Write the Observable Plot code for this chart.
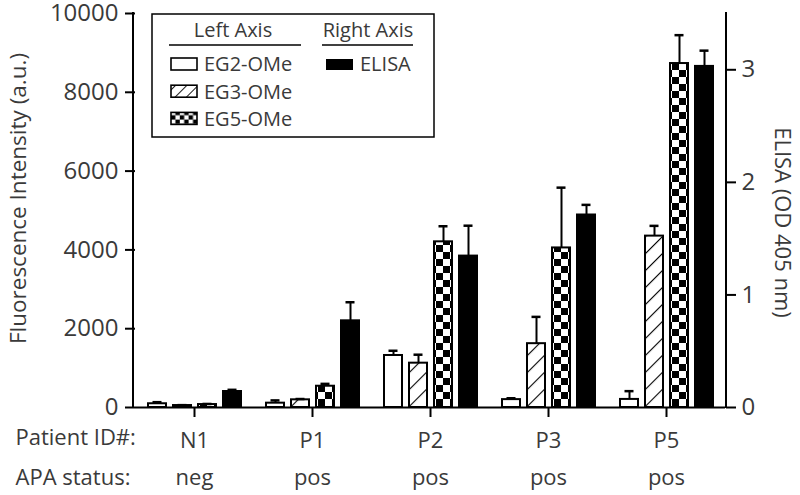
<!DOCTYPE html>
<html><head><meta charset="utf-8">
<script src="https://cdn.jsdelivr.net/npm/d3@7"></script>
<script src="https://cdn.jsdelivr.net/npm/@observablehq/plot@0.6"></script>
<style>body{margin:0;background:#fff} #chart{position:relative;width:800px;height:495px}</style>
</head><body><div id="chart"></div>
<script>
// ---- data ----
const patients = ["N1","P1","P2","P3","P5"];
const apaStatus = ["neg","pos","pos","pos","pos"];
const series = ["EG2-OMe","EG3-OMe","EG5-OMe","ELISA"];
const eg2 = [95,110,1320,200,205];
const eg2Err = [135,180,1440,235,415];
const eg3 = [50,195,1125,1620,4350];
const eg3Err = [60,215,1340,2300,4610];
const eg5 = [75,540,4205,4050,8730];
const eg5Err = [90,600,4600,5580,9450];
const elisa = [0.142,0.77,1.345,1.71,3.03];
const elisaErr = [0.157,0.935,1.615,1.80,3.17];
const leftTicks = [0,2000,4000,6000,8000,10000];
const rightTicks = [0,1,2,3];
const legendLeft = ["EG2-OMe","EG3-OMe","EG5-OMe"];
const legendRight = ["ELISA"];
const yMax = 10000, rightMax = 3.5, k = yMax/rightMax;

const rows = [];
patients.forEach((p,i)=>{
  const vals = [[eg2[i],eg2Err[i]],[eg3[i],eg3Err[i]],[eg5[i],eg5Err[i]],[elisa[i]*k, elisaErr[i]*k]];
  series.forEach((s,j)=> rows.push({patient:p, series:s, value: vals[j][0], err: vals[j][1]}));
});
const statusRows = patients.map((p,i)=>({patient:p, status:apaStatus[i]}));

const ink = "#000", txt = "#3a3a3a";
const font = "'Open Sans', 'Noto Sans', sans-serif";

const chart = Plot.plot({
  width: 800, height: 495, marginTop: 13, marginBottom: 88, marginLeft: 133, marginRight: 74,
  style: {fontFamily: font, fontSize: "23px", color: txt, background: "#fff", overflow: "visible"},
  fx: {domain: patients, padding: 0, label: null, axis: null},
  x: {domain: series, paddingInner: 0.3, paddingOuter: 0.46, axis: null},
  y: {domain: [0, yMax], axis: null},
  color: {domain: series, range: ["#fff","url(#hatch)","url(#checker)","#000"]},
  marks: [
    Plot.barY(rows, {fx: "patient", x: "series", y: "value", fill: "series", stroke: ink, strokeWidth: 2}),
    Plot.ruleX(rows, {fx: "patient", x: "series", y1: "value", y2: "err", stroke: ink, strokeWidth: 2}),
    Plot.tickY(rows, {fx: "patient", x: "series", y: "err", stroke: ink, strokeWidth: 2.5, insetLeft: 4.5, insetRight: 4.5}),
    Plot.ruleY([0], {stroke: ink, strokeWidth: 2}),
    Plot.axisY({anchor: "left", ticks: leftTicks, tickFormat: d3.format("d"), tickSize: 10, tickPadding: 7, label: null, stroke: ink, strokeWidth: 2, fontSize: 24}),
    Plot.axisY({anchor: "right", ticks: rightTicks.map(d => d*k), tickFormat: d => String(Math.round(d/k)), tickSize: 10, tickPadding: 6, label: null, stroke: ink, strokeWidth: 2, fontSize: 24}),
    Plot.axisFx({anchor: "bottom", tickSize: 10, tickPadding: 15, label: null, stroke: ink, strokeWidth: 2, fontSize: 22}),
    Plot.text(statusRows, {fx: "patient", text: "status", frameAnchor: "bottom", dy: 77, fontSize: 22, fill: txt}),
    Plot.text([{patient: patients[0], t: "Patient ID#:"}], {fx: "patient", text: "t", frameAnchor: "bottom-left", dx: -120, dy: 37, textAnchor: "start", fontSize: 22, fill: txt}),
    Plot.text([{patient: patients[0], t: "APA status:"}], {fx: "patient", text: "t", frameAnchor: "bottom-left", dx: -120, dy: 77, textAnchor: "start", fontSize: 22, fill: txt}),
    Plot.text([{patient: patients[0], t: "Fluorescence Intensity (a.u.)"}], {fx: "patient", text: "t", frameAnchor: "left", textAnchor: "middle", rotate: -90, dx: -117, dy: -12, fontSize: 22.5, fill: txt}),
    Plot.text([{patient: patients[4], t: "ELISA (OD 405 nm)"}], {fx: "patient", text: "t", frameAnchor: "right", textAnchor: "middle", rotate: 90, dx: 57, dy: 12, fontSize: 22, fill: txt})
  ]
});
document.getElementById("chart").appendChild(chart);

const svg = d3.select(chart);

// ---- axis lines (from the plot's own scales) ----
const fxR = chart.scale("fx").range, yR = chart.scale("y").range;
[fxR[0], fxR[1]].forEach(x => {
  svg.append("line").attr("x1", x).attr("x2", x).attr("y1", yR[0] + 1).attr("y2", yR[1] - 1)
    .attr("stroke", ink).attr("stroke-width", 2);
});

// ---- patterns ----
const defs = svg.insert("defs", ":first-child");
const xs = chart.scale("x");
const eg5Left = xs.apply("EG5-OMe");

function hatch(id, size, sw) {
  const h = defs.append("pattern").attr("id", id).attr("patternUnits", "userSpaceOnUse")
    .attr("width", size).attr("height", size).attr("patternTransform", "rotate(45)");
  h.append("rect").attr("width", size).attr("height", size).attr("fill", "#fff");
  h.append("line").attr("x1", 0).attr("y1", 0).attr("x2", 0).attr("y2", size).attr("stroke", "#000").attr("stroke-width", sw);
}
function checker(id, s, x0, y0) {
  const c = defs.append("pattern").attr("id", id).attr("patternUnits", "userSpaceOnUse")
    .attr("x", x0).attr("y", y0).attr("width", 2*s).attr("height", 2*s);
  c.append("rect").attr("width", 2*s).attr("height", 2*s).attr("fill", "#fff");
  c.append("rect").attr("x", s).attr("y", 0).attr("width", s).attr("height", s).attr("fill", "#000");
  c.append("rect").attr("x", 0).attr("y", s).attr("width", s).attr("height", s).attr("fill", "#000");
}
hatch("hatch", 12, 2.2);
checker("checker", 7, eg5Left + 2, 0);
hatch("hatchSmall", 8, 1.8);
checker("checkerSmall", 4.4, 171, 58);

// ---- legend ----
const lg = svg.append("g").attr("font-family", font).attr("font-size", 20).attr("fill", txt).attr("text-anchor", "start");
lg.append("rect").attr("x", 152).attr("y", 14).attr("width", 282).attr("height", 123)
  .attr("fill", "#fff").attr("stroke", "#000").attr("stroke-width", 1.5);
lg.append("text").attr("x", 233).attr("y", 37).attr("text-anchor", "middle").text("Left Axis");
lg.append("line").attr("x1", 169).attr("x2", 301).attr("y1", 45).attr("y2", 45).attr("stroke", "#000").attr("stroke-width", 1.5);
lg.append("text").attr("x", 368).attr("y", 37).attr("text-anchor", "middle").text("Right Axis");
lg.append("line").attr("x1", 322).attr("x2", 413).attr("y1", 45).attr("y2", 45).attr("stroke", "#000").attr("stroke-width", 1.5);
const swFill = ["#fff", "url(#hatchSmall)", "url(#checkerSmall)"];
legendLeft.forEach((name, i) => {
  lg.append("rect").attr("x", 171).attr("y", 58 + 27.2*i).attr("width", 26).attr("height", 12)
    .attr("fill", swFill[i]).attr("stroke", "#000").attr("stroke-width", 1.6);
  lg.append("text").attr("x", 204).attr("y", 71 + 27.5*i).text(name);
});
legendRight.forEach((name, i) => {
  lg.append("rect").attr("x", 326).attr("y", 59 + 27.2*i).attr("width", 27).attr("height", 11).attr("fill", "#000");
  lg.append("text").attr("x", 360).attr("y", 71 + 27.5*i).text(name);
});
</script>
</body></html>
